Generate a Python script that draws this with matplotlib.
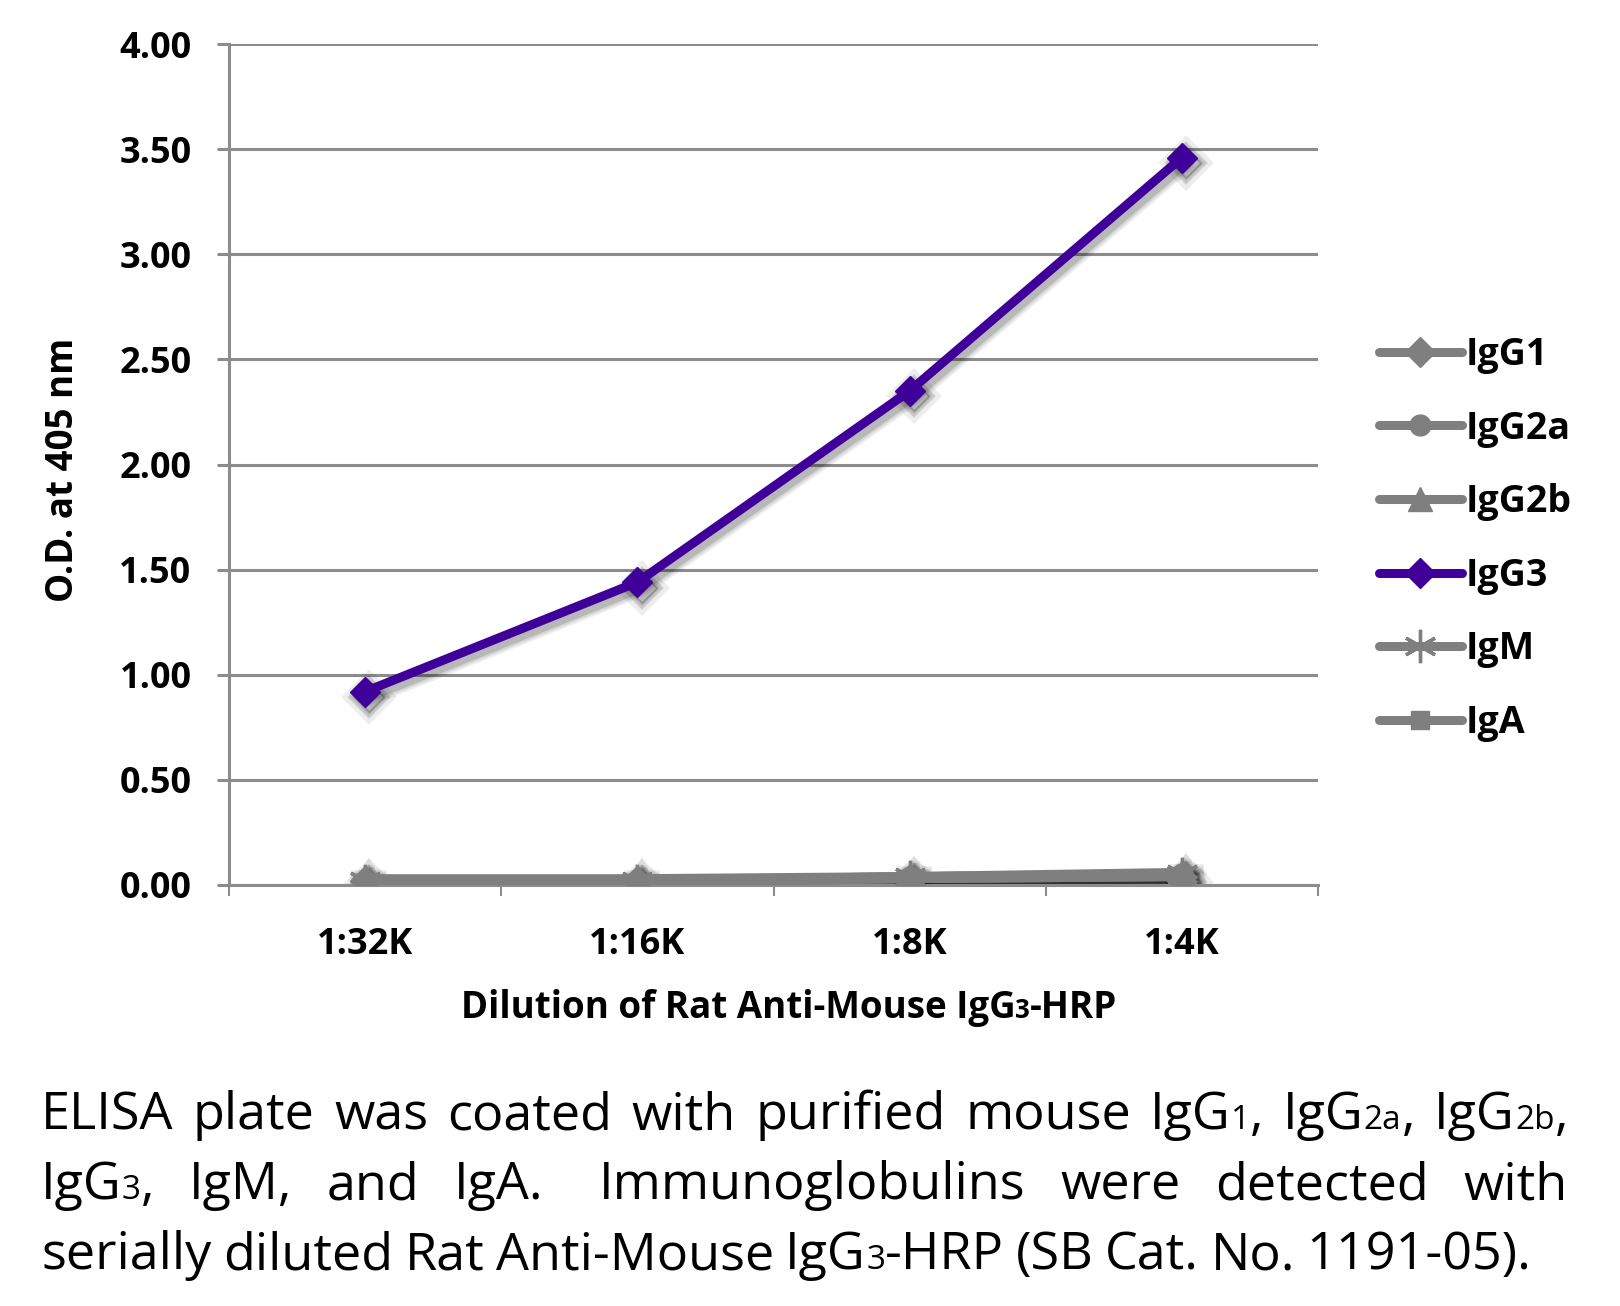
import matplotlib
matplotlib.use('Agg')
import matplotlib.pyplot as plt
import matplotlib.transforms as mtransforms
from matplotlib.ticker import MultipleLocator, FormatStrFormatter

# data
dilutions = ['1:32K', '1:16K', '1:8K', '1:4K']
igg1 = [0.02, 0.02, 0.03, 0.04]
igg2a = [0.02, 0.02, 0.04, 0.05]
igg2b = [0.03, 0.03, 0.04, 0.06]
igg3 = [0.92, 1.44, 2.35, 3.46]
igm = [0.02, 0.02, 0.04, 0.05]
iga = [0.01, 0.01, 0.03, 0.04]

series_names = ['IgG1', 'IgG2a', 'IgG2b', 'IgG3', 'IgM', 'IgA']
series_vals = [igg1, igg2a, igg2b, igg3, igm, iga]

gray = '#7f7f7f'
purple = '#3f0099'
series_colors = [gray, gray, gray, purple, gray, gray]
series_markers = ['D', 'o', '^', 'D', (6, 2, 0), 's']
marker_sizes = [15, 15, 17, 15, 24, 13]
marker_edges = [1, 1, 1, 1, 2.4, 1]

plt.rcParams['font.family'] = ['Open Sans', 'DejaVu Sans']
plt.rcParams['font.weight'] = 'bold'

W, H = 1620, 1306
fig = plt.figure(figsize=(W / 100, H / 100), dpi=100)
ax = fig.add_axes([229 / W, 1 - 885 / H, (1318 - 229) / W, (885 - 44) / H])

X = range(len(dilutions))
LW = 6.5

# soft drop shadow (Excel style): a few wide, faint copies shifted down-right
shift = mtransforms.ScaledTranslation(3 / 72, -4 / 72, fig.dpi_scale_trans)
for lw_add, a in [(6, 0.07), (3, 0.09), (0, 0.14)]:
    for vals, m, ms in zip(series_vals, series_markers, marker_sizes):
        ax.plot(X, vals, color='black', alpha=a, lw=LW + lw_add, marker=m,
                ms=ms + lw_add, mew=1 + lw_add, solid_capstyle='round',
                transform=ax.transData + shift, zorder=2)

for name, vals, c, m, ms, mew in zip(series_names, series_vals, series_colors,
                                     series_markers, marker_sizes, marker_edges):
    ax.plot(X, vals, color=c, lw=LW, marker=m, ms=ms, mec=c, mfc=c, mew=mew,
            solid_capstyle='round', label=name, zorder=3)

ax.set_xlim(-0.5, 3.5)
ax.set_ylim(0, 4)
ax.yaxis.set_major_locator(MultipleLocator(0.5))
ax.yaxis.set_major_formatter(FormatStrFormatter('%.2f'))
ax.set_xticks(list(X))
ax.set_xticklabels(dilutions)
ax.set_xticks([-0.5, 0.5, 1.5, 2.5, 3.5], minor=True)
ax.grid(axis='y', color='#8c8c8c', lw=2.2, zorder=0)
ax.set_axisbelow(True)
for s in ['top', 'right']:
    ax.spines[s].set_visible(False)
for s in ['left', 'bottom']:
    ax.spines[s].set_color('#8c8c8c')
    ax.spines[s].set_linewidth(2.2)
ax.tick_params(axis='y', length=9, width=2.2, color='#8c8c8c', pad=18, labelsize=26)
ax.tick_params(axis='x', which='major', length=0, pad=30, labelsize=26)
ax.tick_params(axis='x', which='minor', length=8, width=1.5, color='#8c8c8c')

fig.text(63 / W, 1 - 470 / H, 'O.D. at 405 nm', rotation=90, ha='center', va='center',
         fontsize=26.5, weight='bold')

leg = ax.legend(loc='upper left', bbox_to_anchor=(1379 / W, 1 - 336 / H),
                bbox_transform=fig.transFigure, frameon=False, fontsize=27,
                handlelength=2.2, handletextpad=0.1, labelspacing=0.95,
                borderpad=0, borderaxespad=0)

pix = mtransforms.IdentityTransform()
renderer = fig.canvas.get_renderer()


def make_runs(words, size, small, weight):
    objs, widths = [], []
    for w in words:
        parts = []
        for s, sm in w:
            t = fig.text(0, 0, s, fontsize=small if sm else size,
                         weight=weight, transform=pix, ha='left', va='baseline')
            parts.append([t, t.get_window_extent(renderer).width])
        objs.append(parts)
        widths.append(sum(p[1] for p in parts))
    return objs, widths


def place(objs, x0, y, gaps):
    x = x0
    for parts, g in zip(objs, gaps + [0]):
        for t, pw in parts:
            t.set_position((x, H - y))
            x += pw
        x += g


# x axis title with small 3
xl = [[('Dilution of Rat Anti-Mouse IgG', 0), ('3', 1), ('-HRP', 0)]]
objs, widths = make_runs(xl, 26.5, 18.5, 'bold')
place(objs, 789 - widths[0] / 2, 1018, [])

# caption
cap_lines = [
    [[('ELISA', 0)], [('plate', 0)], [('was', 0)], [('coated', 0)], [('with', 0)],
     [('purified', 0)], [('mouse', 0)], [('IgG', 0), ('1', 1), (',', 0)],
     [('IgG', 0), ('2a', 1), (',', 0)], [('IgG', 0), ('2b', 1), (',', 0)]],
    [[('IgG', 0), ('3', 1), (',', 0)], [('IgM,', 0)], [('and', 0)], [('IgA.', 0)],
     [('Immunoglobulins', 0)], [('were', 0)], [('detected', 0)], [('with', 0)]],
    [[('serially', 0)], [('diluted', 0)], [('Rat', 0)], [('Anti-Mouse', 0)],
     [('IgG', 0), ('3', 1), ('-HRP', 0)], [('(SB', 0)], [('Cat.', 0)], [('No.', 0)],
     [('1191-05).', 0)]],
]
# relative width of the gap after each word (double space after "IgA.")
cap_gap_weights = [
    [1] * 9,
    [1, 1, 1, 1.6, 1, 1, 1],
    None,
]
cap_base = [1129, 1199, 1269]
cap_left, cap_right = 41, 1568
for words, weights, yb in zip(cap_lines, cap_gap_weights, cap_base):
    objs, widths = make_runs(words, 37.5, 24, 'normal')
    if weights is not None:
        unit = (cap_right - cap_left - sum(widths)) / sum(weights)
        gaps = [unit * wgt for wgt in weights]
    else:
        gaps = [11.5] * (len(words) - 1)
    place(objs, cap_left, yb, gaps)

fig.savefig('out.png', dpi=100)
